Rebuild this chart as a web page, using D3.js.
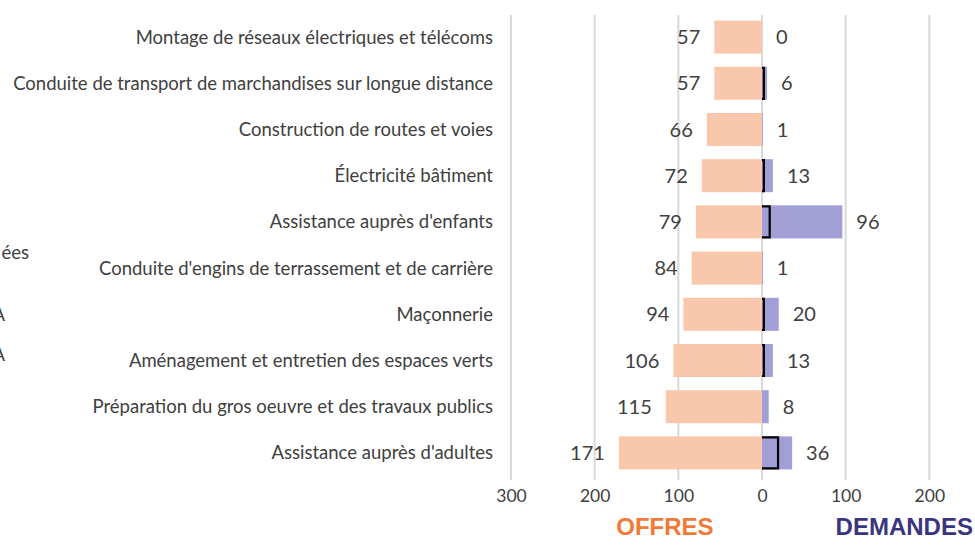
<!DOCTYPE html>
<html>
<head>
<meta charset="utf-8">
<script src="https://cdn.jsdelivr.net/npm/d3@7"></script>
<style>
  html, body { margin: 0; padding: 0; background: #fff; overflow: hidden; }
  svg { display: block; }
  text { font-family: Lato, "Open Sans", sans-serif; fill: #404040; }
</style>
</head>
<body>
<svg id="chart" width="975" height="545"></svg>
<script>
// Métiers (top to bottom)
const metiers = [
  "Montage de réseaux électriques et télécoms",
  "Conduite de transport de marchandises sur longue distance",
  "Construction de routes et voies",
  "Électricité bâtiment",
  "Assistance auprès d'enfants",
  "Conduite d'engins de terrassement et de carrière",
  "Maçonnerie",
  "Aménagement et entretien des espaces verts",
  "Préparation du gros oeuvre et des travaux publics",
  "Assistance auprès d'adultes"
];
// Offres d'emploi (drawn to the left)
const offres = [57, 57, 66, 72, 79, 84, 94, 106, 115, 171];
// Demandes d'emploi (drawn to the right)
const demandes = [0, 6, 1, 13, 96, 1, 20, 13, 8, 36];
// Outlined marker series on the demand side
const marqueurs = [0, 1, 0, 1, 8, 0, 1, 1, 0, 18];
// Gridline positions (signed) and the labelled subset
const gridTicks = [-300, -200, -100, 0, 100, 200, 300];
const labelTicks = [-300, -200, -100, 0, 100, 200];

const svg = d3.select("#chart");

const x = d3.scaleLinear().domain([-300, 300]).range([511, 1013]);
const y = d3.scaleBand().domain(metiers).range([14, 476]).paddingInner(0.285).paddingOuter(0.1425);

const colOffres = "#F9C8AC";
const colDemandes = "#A29ED6";

// Vertical gridlines
svg.append("g")
  .selectAll("line")
  .data(gridTicks)
  .join("line")
  .attr("x1", d => x(d)).attr("x2", d => x(d))
  .attr("y1", 15).attr("y2", 480)
  .attr("stroke", "#D9D9D9")
  .attr("stroke-width", 2);

// Bottom axis labels
const axis = d3.axisBottom(x).tickValues(labelTicks).tickSize(0).tickPadding(0)
  .tickFormat(d => Math.abs(d));
const gAxis = svg.append("g").attr("transform", "translate(0,490)").call(axis);
gAxis.select(".domain").remove();
gAxis.selectAll("text")
  .attr("dy", "0.71em")
  .style("font-family", "Lato, sans-serif")
  .style("font-size", "17.5px")
  .attr("fill", "#404040");

// Offres bars
svg.append("g")
  .selectAll("rect")
  .data(metiers)
  .join("rect")
  .attr("x", (d, i) => x(-offres[i]))
  .attr("y", d => y(d))
  .attr("width", (d, i) => x(0) - x(-offres[i]))
  .attr("height", y.bandwidth())
  .attr("fill", colOffres);

// Demandes bars
svg.append("g")
  .selectAll("rect")
  .data(metiers)
  .join("rect")
  .attr("x", x(0))
  .attr("y", d => y(d))
  .attr("width", (d, i) => x(demandes[i]) - x(0))
  .attr("height", y.bandwidth())
  .attr("fill", colDemandes);

// Outlined markers (open on the axis side)
svg.append("g")
  .selectAll("path")
  .data(metiers.map((m, i) => ({ m, v: marqueurs[i] })).filter(d => d.v > 0))
  .join("path")
  .attr("d", d => {
    const x0 = x(0), x1 = x(d.v) + 1, y0 = y(d.m) + 1, y1 = y(d.m) + y.bandwidth() - 1;
    return `M${x0},${y0}H${x1}V${y1}H${x0}`;
  })
  .attr("fill", "none")
  .attr("stroke", "#000")
  .attr("stroke-width", 2.2);

// Category labels
svg.append("g")
  .selectAll("text")
  .data(metiers)
  .join("text")
  .attr("x", 493)
  .attr("y", d => y(d) + y.bandwidth() / 2)
  .attr("dy", "0.35em")
  .attr("text-anchor", "end")
  .style("font-size", "18.5px")
  .text(d => d);

// Offres value labels
svg.append("g")
  .selectAll("text")
  .data(metiers)
  .join("text")
  .attr("x", (d, i) => x(-offres[i]) - 14)
  .attr("y", d => y(d) + y.bandwidth() / 2)
  .attr("dy", "0.35em")
  .attr("text-anchor", "end")
  .style("font-size", "20px")
  .text((d, i) => offres[i]);

// Demandes value labels
svg.append("g")
  .selectAll("text")
  .data(metiers)
  .join("text")
  .attr("x", (d, i) => x(demandes[i]) + 14)
  .attr("y", d => y(d) + y.bandwidth() / 2)
  .attr("dy", "0.35em")
  .attr("text-anchor", "start")
  .style("font-size", "20px")
  .text((d, i) => demandes[i]);

// Side titles
svg.append("text")
  .attr("x", x(-116)).attr("y", 535)
  .attr("text-anchor", "middle")
  .style("font-family", "'Liberation Sans', Arial, sans-serif")
  .style("font-weight", "bold")
  .style("font-size", "24px")
  .style("fill", "#F27A36")
  .text("OFFRES");
svg.append("text")
  .attr("x", x(170)).attr("y", 535)
  .attr("text-anchor", "middle")
  .style("font-family", "'Liberation Sans', Arial, sans-serif")
  .style("font-weight", "bold")
  .style("font-size", "24px")
  .style("fill", "#3A3580")
  .text("DEMANDES");

// Legend fragments on the left edge
svg.append("text").attr("x", 29).attr("y", 253).attr("dy", "0.35em")
  .attr("text-anchor", "end").style("font-size", "18.5px").text("ées");
svg.append("text").attr("x", 5).attr("y", 315).attr("dy", "0.35em")
  .attr("text-anchor", "end").style("font-size", "18.5px").text("A");
svg.append("text").attr("x", 5).attr("y", 355).attr("dy", "0.35em")
  .attr("text-anchor", "end").style("font-size", "18.5px").text("A");
</script>
</body>
</html>
